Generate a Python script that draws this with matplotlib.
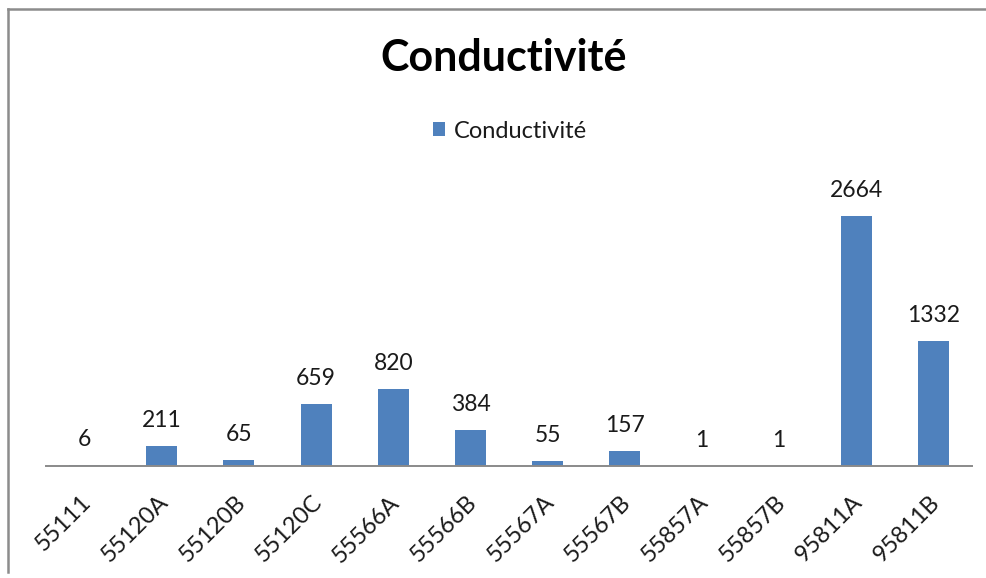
import matplotlib
matplotlib.use("Agg")
import matplotlib.pyplot as plt
from matplotlib.lines import Line2D
from matplotlib.transforms import ScaledTranslation
import numpy as np

plt.rcParams['font.family'] = ['Lato', 'DejaVu Sans']

stations = ["55111", "55120A", "55120B", "55120C", "55566A", "55566B",
            "55567A", "55567B", "55857A", "55857B", "95811A", "95811B"]
conductivite = [6, 211, 65, 659, 820, 384, 55, 157, 1, 1, 2664, 1332]

bar_color = "#4F81BD"
text_color = "#1a1a1a"

fig = plt.figure(figsize=(9.87, 5.78), dpi=100)
W, H = 987, 578
ax = fig.add_axes([46 / W, 1 - 466 / H, (972 - 46) / W, (466 - 184.5) / H])

x = np.arange(len(stations))
bars = ax.bar(x, conductivite, width=0.4, color=bar_color, label="Conductivité")

ax.set_xlim(-0.5, len(stations) - 0.5)
ax.set_ylim(0, 3000)

for xi, v in zip(x, conductivite):
    ax.annotate(str(v), (xi, v), xytext=(0, 11), textcoords="offset points",
                ha="center", va="bottom", fontsize=16.5, color=text_color)

for side in ("left", "right", "top"):
    ax.spines[side].set_visible(False)
ax.spines["bottom"].set_color("#8a8a8a")
ax.spines["bottom"].set_linewidth(1.4)
ax.set_yticks([])
ax.set_xticks(x)
ax.set_xticklabels(stations, rotation=45, ha="right", va="center",
                   rotation_mode="anchor", fontsize=17, color=text_color)
ax.tick_params(axis="x", length=0, pad=0)
offset = ScaledTranslation(3 / 100, -33 / 100, fig.dpi_scale_trans)
for lbl in ax.get_xticklabels():
    lbl.set_transform(lbl.get_transform() + offset)

fig.text(504 / W, 1 - 58 / H, "Conductivité", ha="center", va="center",
         fontsize=31, fontweight="bold", color="black")

fig.legend(handles=[bars], labels=["Conductivité"], loc="center",
           bbox_to_anchor=(510 / W, 1 - 131 / H), frameon=False,
           handlelength=0.5, handleheight=0.5, handletextpad=0.4,
           fontsize=17, labelcolor=text_color)

# chart area frame (left and top edges)
frame_kw = dict(color="#8c8c8c", linewidth=1.8, transform=fig.transFigure)
fig.add_artist(Line2D([8 / W, 8 / W], [1 - 9 / H, 1 - 572 / H], **frame_kw))
fig.add_artist(Line2D([8 / W, 1.0], [1 - 9 / H, 1 - 9 / H], **frame_kw))

fig.savefig("out.png", dpi=100)
